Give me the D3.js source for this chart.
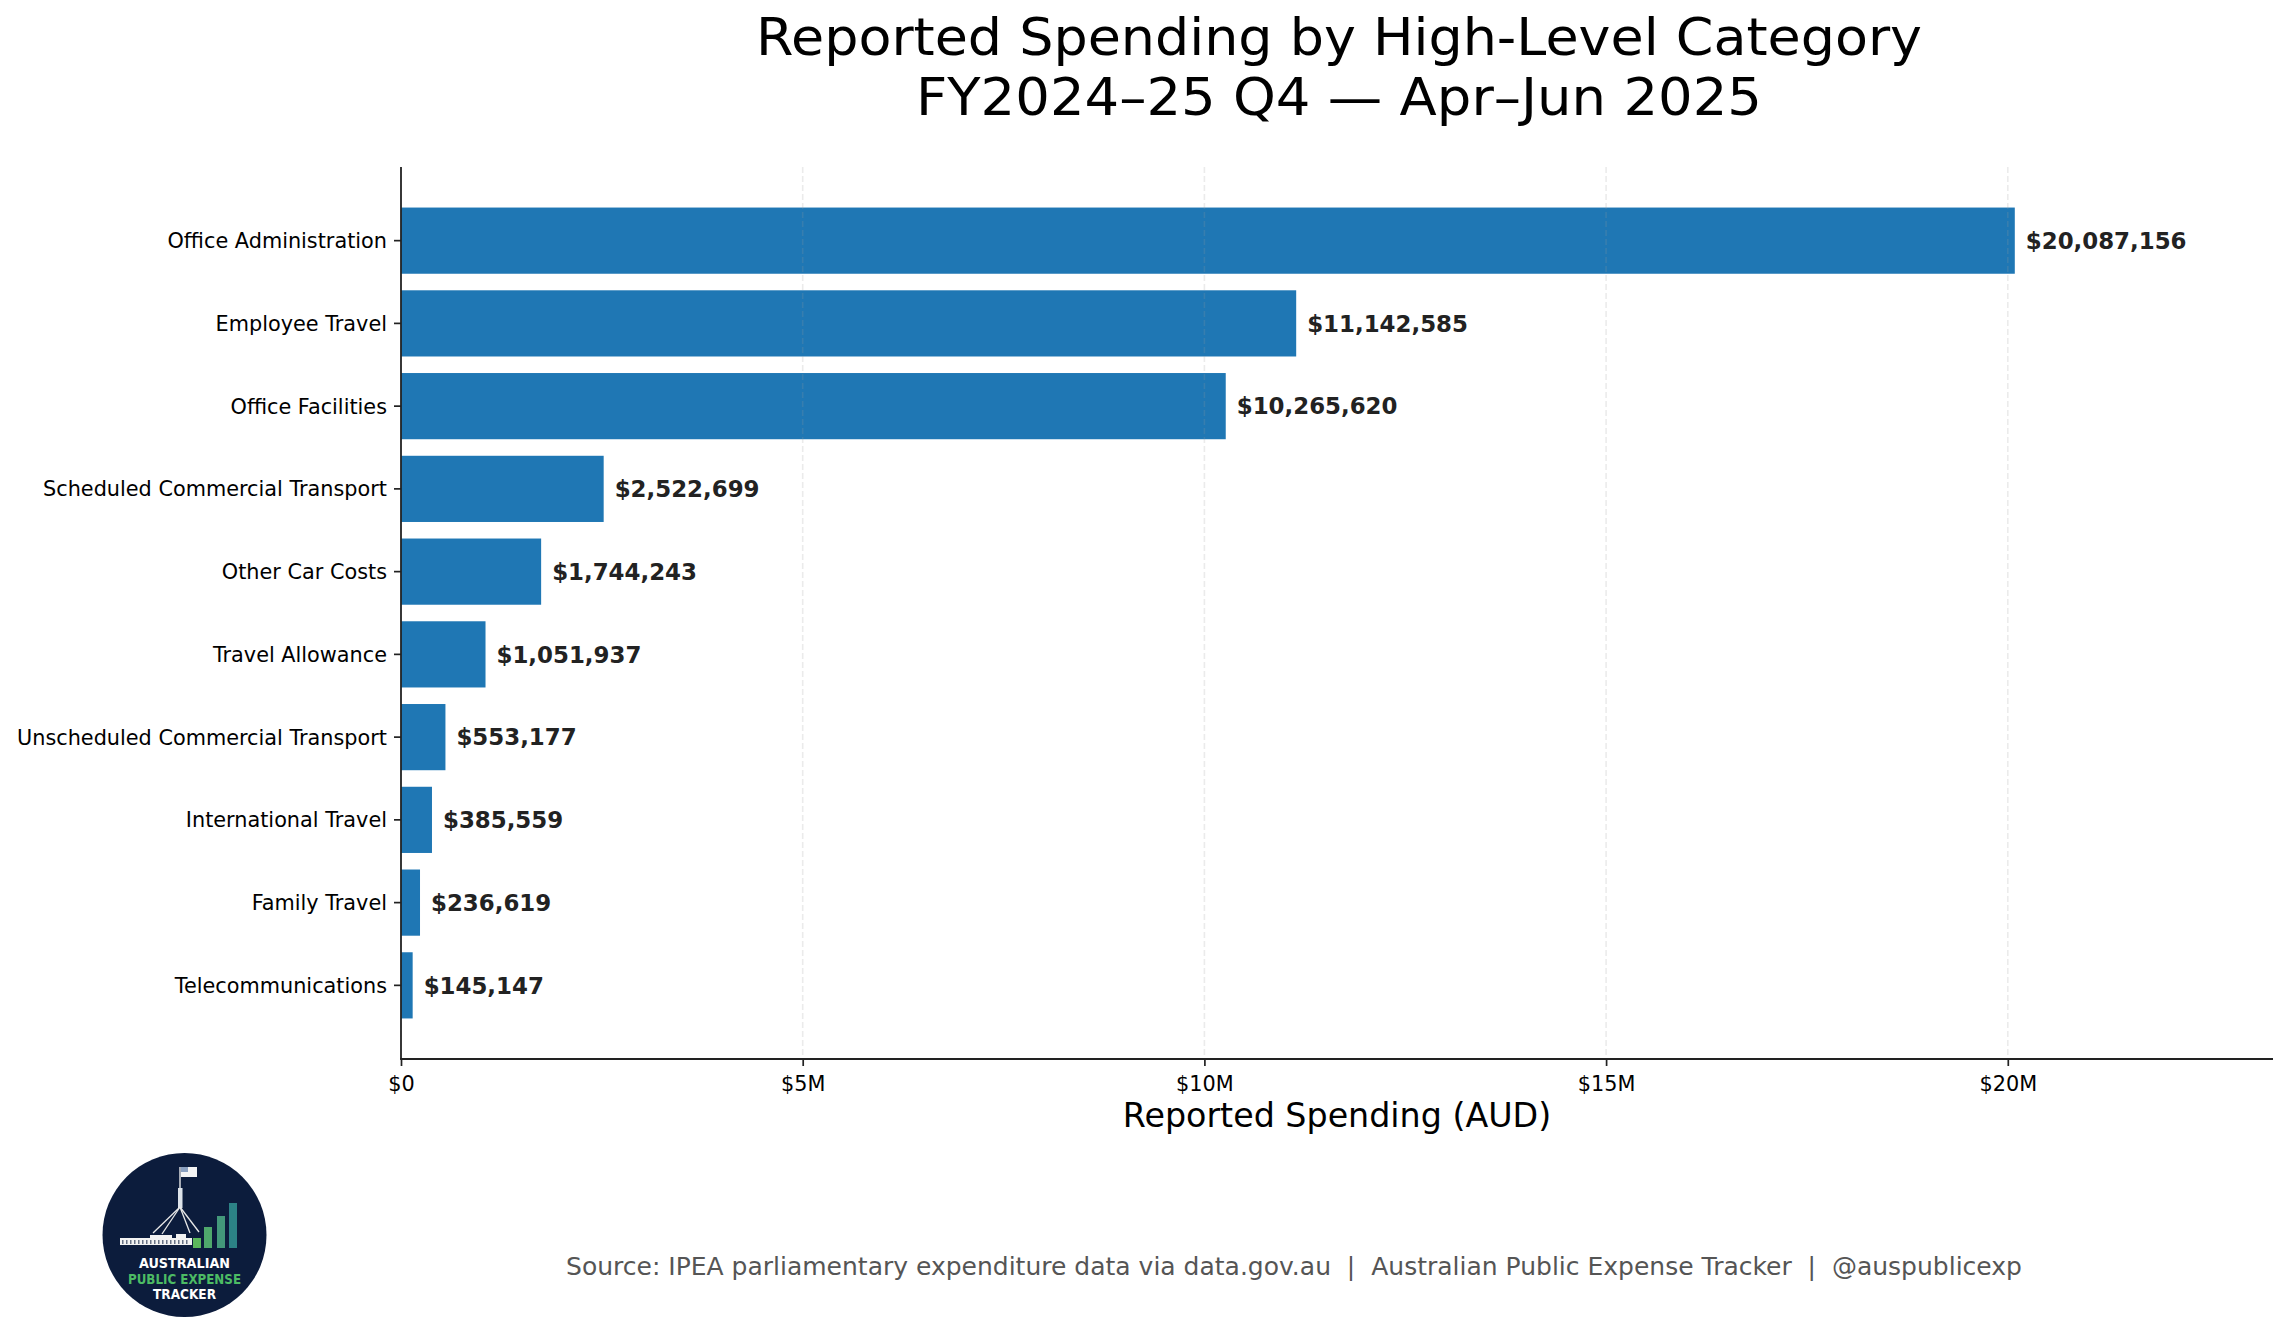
<!DOCTYPE html>
<html>
  <head>
    <meta charset="utf-8">
    <script src="https://d3js.org/d3.v7.min.js"></script>
    <style>
      body { margin: 0; background: #fff; }
      svg text { font-family: "DejaVu Sans", sans-serif; }
    </style>
  </head>
<body>
<script>
// chart data
var categories = [
  "Office Administration",
  "Employee Travel",
  "Office Facilities",
  "Scheduled Commercial Transport",
  "Other Car Costs",
  "Travel Allowance",
  "Unscheduled Commercial Transport",
  "International Travel",
  "Family Travel",
  "Telecommunications"
];
var spending = [20087156, 11142585, 10265620, 2522699, 1744243,
                1051937, 553177, 385559, 236619, 145147];
var xTickValues = [0, 5e6, 10e6, 15e6, 20e6];
var xTickLabels = ["$0", "$5M", "$10M", "$15M", "$20M"];

var titleLines = ["Reported Spending by High-Level Category",
                  "FY2024\u201325 Q4 \u2014 Apr\u2013Jun 2025"];
var xLabel = "Reported Spending (AUD)";
var footer = "Source: IPEA parliamentary expenditure data via data.gov.au  |  Australian Public Expense Tracker  |  @auspublicexp";

// plot area (note: "top" is reserved on window, so prefix the names)
var W = 2287, H = 1337;
var axLeft = 401, axRight = 2273, axTop = 167, axBottom = 1059;

var svg = d3.select("body").append("svg")
    .attr("width", W)
    .attr("height", H);

svg.append("rect").attr("width", W).attr("height", H).attr("fill", "#fff");

// scales
var x = d3.scaleLinear()
    .domain([0, d3.max(spending) * 1.16])
    .range([axLeft, axRight]);

var y = d3.scaleBand()
    .domain(categories)
    .range([axTop, axBottom])
    .paddingInner(0.2)
    .paddingOuter(0.49);

// bars
svg.append("g").selectAll("rect")
    .data(categories)
    .enter()
    .append("rect")
      .attr("x", x(0))
      .attr("y", function (d) { return y(d); })
      .attr("width", function (d, i) { return x(spending[i]) - x(0); })
      .attr("height", y.bandwidth())
      .attr("fill", "#1f77b4");

// dashed vertical grid, faint, drawn over the bars like the original
svg.append("g").selectAll("line")
    .data(xTickValues)
    .enter()
    .append("line")
      .attr("x1", function (d) { return x(d); })
      .attr("x2", function (d) { return x(d); })
      .attr("y1", axTop)
      .attr("y2", axBottom)
      .attr("stroke", "#999")
      .attr("stroke-opacity", 0.2)
      .attr("stroke-width", 1.6)
      .attr("stroke-dasharray", "6,3");

// value labels
svg.append("g").selectAll("text")
    .data(categories)
    .enter()
    .append("text")
      .attr("x", function (d, i) { return x(spending[i]) + 11; })
      .attr("y", function (d) { return y(d) + y.bandwidth() / 2 + 8.3; })
      .style("font-size", "22.9px")
      .style("font-weight", "bold")
      .attr("fill", "#222")
      .text(function (d, i) { return "$" + d3.format(",")(spending[i]); });

// y axis
var yAxis = svg.append("g")
    .attr("transform", "translate(" + axLeft + ",0)")
    .call(d3.axisLeft(y).tickSize(7).tickPadding(7));
yAxis.select(".domain").remove();
yAxis.selectAll(".tick line").attr("stroke", "#222").attr("stroke-width", 1.7);
yAxis.selectAll(".tick text")
    .attr("dy", null)
    .attr("y", 7.6)
    .style("font-size", "20.8px")
    .style("font-family", "DejaVu Sans")
    .attr("fill", "#000");

// x axis
var xAxis = svg.append("g")
    .attr("transform", "translate(0," + axBottom + ")")
    .call(d3.axisBottom(x)
        .tickValues(xTickValues)
        .tickFormat(function (d, i) { return xTickLabels[i]; })
        .tickSize(7)
        .tickPadding(7));
xAxis.select(".domain").remove();
xAxis.selectAll(".tick line").attr("stroke", "#222").attr("stroke-width", 1.7);
xAxis.selectAll(".tick text")
    .attr("dy", null)
    .attr("y", 32)
    .style("font-size", "20.8px")
    .style("font-family", "DejaVu Sans")
    .attr("fill", "#000");

// spines (left and bottom only)
svg.append("line")
    .attr("x1", axLeft).attr("x2", axLeft)
    .attr("y1", axTop).attr("y2", axBottom)
    .attr("stroke", "#222").attr("stroke-width", 1.8);
svg.append("line")
    .attr("x1", axLeft - 0.9).attr("x2", axRight)
    .attr("y1", axBottom).attr("y2", axBottom)
    .attr("stroke", "#222").attr("stroke-width", 1.8);

// title, stretched a little to the width the reference shows
var titleWidths = [1166, 846];
svg.append("g").selectAll("text")
    .data(titleLines)
    .enter()
    .append("text")
      .attr("x", 1339)
      .attr("y", function (d, i) { return 55 + i * 60; })
      .attr("text-anchor", "middle")
      .attr("textLength", function (d, i) { return titleWidths[i]; })
      .attr("lengthAdjust", "spacingAndGlyphs")
      .style("font-size", "52px")
      .attr("fill", "#000")
      .text(function (d) { return d; });

// axis label
svg.append("text")
    .attr("x", (axLeft + axRight) / 2)
    .attr("y", 1127)
    .attr("text-anchor", "middle")
    .style("font-size", "33.3px")
    .attr("fill", "#000")
    .text(xLabel);

// footer
svg.append("text")
    .attr("x", 1294)
    .attr("y", 1275)
    .attr("text-anchor", "middle")
    .style("font-size", "25px")
    .attr("fill", "#555")
    .attr("xml:space", "preserve")
    .style("white-space", "pre")
    .text(footer);

// logo badge, bottom left
var logo = svg.append("g");
logo.append("circle")
    .attr("cx", 184.5).attr("cy", 1235).attr("r", 82)
    .attr("fill", "#0c1c3c");

// building
logo.append("rect").attr("x", 120).attr("y", 1238).attr("width", 72).attr("height", 7).attr("fill", "#f2f2f2");
logo.append("rect").attr("x", 150).attr("y", 1235).attr("width", 22).attr("height", 10).attr("fill", "#f2f2f2");
logo.append("rect").attr("x", 176).attr("y", 1234).attr("width", 10).attr("height", 4).attr("fill", "#f2f2f2");
var windows = d3.range(122, 190, 4);
logo.append("g").selectAll("rect")
    .data(windows)
    .enter()
    .append("rect")
      .attr("x", function (d) { return d; })
      .attr("y", 1240)
      .attr("width", 1.5)
      .attr("height", 4)
      .attr("fill", "#0c1c3c")
      .attr("opacity", 0.6);

// flagpole and legs
logo.append("line").attr("x1", 180).attr("x2", 180).attr("y1", 1167).attr("y2", 1190)
    .attr("stroke", "#e8e8e8").attr("stroke-width", 1.4);
logo.append("rect").attr("x", 178).attr("y", 1188).attr("width", 4.5).attr("height", 20).attr("fill", "#dde3ea");
var legEnds = [[153, 1233], [162, 1234], [190, 1233], [199, 1232]];
logo.append("g").selectAll("line")
    .data(legEnds)
    .enter()
    .append("line")
      .attr("x1", 180).attr("y1", 1207)
      .attr("x2", function (d) { return d[0]; })
      .attr("y2", function (d) { return d[1]; })
      .attr("stroke", "#e8e8e8")
      .attr("stroke-width", 1.3);
logo.append("rect").attr("x", 181).attr("y", 1167).attr("width", 16).attr("height", 10).attr("fill", "#f4f4f4");
logo.append("rect").attr("x", 181).attr("y", 1167).attr("width", 7).attr("height", 5).attr("fill", "#8aa0c0");

// little rising bars
var logoBars = [[193, 1238, "#5cb85c"], [204, 1227, "#4fa86c"], [217, 1216, "#43987a"], [229, 1203, "#2c8286"]];
logo.append("g").selectAll("rect")
    .data(logoBars)
    .enter()
    .append("rect")
      .attr("x", function (d) { return d[0]; })
      .attr("y", function (d) { return d[1]; })
      .attr("width", 8)
      .attr("height", function (d) { return 1248 - d[1]; })
      .attr("fill", function (d) { return d[2]; });

var logoText = [["AUSTRALIAN", 1268, "#ffffff", 91], ["PUBLIC EXPENSE", 1283.5, "#4cbb64", 113], ["TRACKER", 1299, "#ffffff", 63]];
logo.append("g").selectAll("text")
    .data(logoText)
    .enter()
    .append("text")
      .attr("x", 184.5)
      .attr("y", function (d) { return d[1]; })
      .attr("text-anchor", "middle")
      .attr("textLength", function (d) { return d[3]; })
      .attr("lengthAdjust", "spacingAndGlyphs")
      .style("font-size", "13.5px")
      .style("font-weight", "bold")
      .attr("fill", function (d) { return d[2]; })
      .text(function (d) { return d[0]; });
</script>
</body>
</html>
